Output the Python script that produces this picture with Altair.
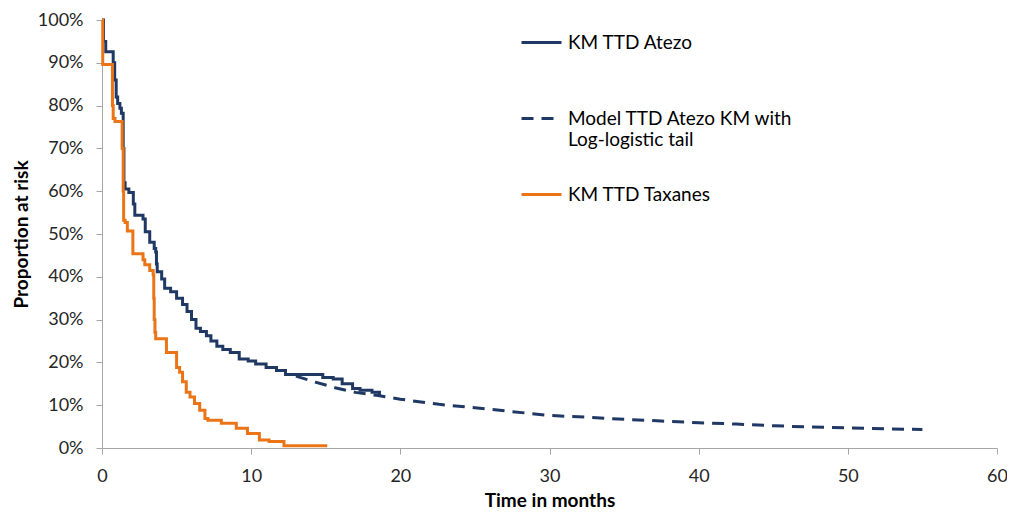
import altair as alt
import pandas as pd

# Kaplan-Meier: time-to-discontinuation, Atezolizumab (time in months, % at risk)
atezo_t = [0, 0.1, 0.25, 0.75, 0.85, 0.95, 1.05, 1.2, 1.3, 1.42, 1.47, 1.55, 1.8, 2.1, 2.2,
           2.75, 2.9, 3.2, 3.5, 3.6, 3.65, 3.7, 4.0, 4.2, 4.6, 5.0, 5.4, 5.7, 6.0, 6.3, 6.6,
           7.0, 7.3, 7.7, 8.1, 8.6, 9.2, 9.8, 10.3, 11.0, 11.7, 12.3, 14.8, 15.5, 16.1, 16.8,
           17.3, 18.1, 18.6]
atezo_s = [100, 95, 92.6, 90, 86, 82, 80.5, 79.4, 78.2, 70, 62, 60.5, 59.7, 57, 54.4,
           53.5, 50.5, 48.1, 46.6, 45.8, 43, 41.2, 39.5, 37.3, 36.5, 35.0, 33.5, 31.9, 30, 28.0, 27.2,
           26.2, 25, 23.8, 23.0, 22.3, 20.8, 20.3, 19.6, 18.8, 18.1, 17.2, 16.5, 16.1, 15.0, 13.9,
           13.5, 13.0, 11.9]

# Kaplan-Meier: time-to-discontinuation, Taxanes
tax_t = [0, 0.05, 0.7, 0.75, 0.87, 1.35, 1.42, 1.45, 1.55, 1.7, 2.07, 2.75, 2.87, 3.2, 3.43,
         3.47, 3.5, 3.55, 3.6, 4.32, 5.0, 5.2, 5.4, 5.65, 5.9, 6.2, 6.55, 6.9, 7.1, 8.0, 9.0,
         9.75, 10.55, 11.2, 12.2, 15.1]
tax_s = [100, 89.6, 80, 77, 76.3, 70, 60, 53.2, 52.7, 50.7, 45.4, 44, 42.8, 41.5, 40.5,
         35, 30, 27, 25.5, 22.3, 18.8, 17.7, 15.5, 13, 11.9, 10.4, 8.8, 6.9, 6.5, 5.8, 4.6,
         3.4, 1.85, 1.5, 0.5, 0.5]

# Modelled curve: KM with log-logistic tail
model_t = [13, 14.3, 15.7, 17, 18.4, 20, 22.6, 25, 27.5, 30, 32.5, 35, 37.5, 40, 42.5,
           45, 47.5, 50, 52.5, 55]
model_s = [16.8, 15.4, 14.0, 13.0, 12.3, 11.4, 10.2, 9.4, 8.5, 7.6, 7.2, 6.7, 6.3, 5.9, 5.6,
           5.2, 4.9, 4.7, 4.5, 4.3]

series_names = ["KM TTD Atezo", "Model TTD Atezo KM with Log-logistic tail", "KM TTD Taxanes"]
series_colors = ["#1F3864", "#1F3864", "#EB7417"]
series_dash = [[1, 0], [12, 8], [1, 0]]

atezo = pd.DataFrame({"t": atezo_t, "s": [v / 100 for v in atezo_s], "series": series_names[0]})
model = pd.DataFrame({"t": model_t, "s": [v / 100 for v in model_s], "series": series_names[1]})
tax = pd.DataFrame({"t": tax_t, "s": [v / 100 for v in tax_s], "series": series_names[2]})

FONT = "Lato"

x = alt.X("t:Q", title="Time in months",
          scale=alt.Scale(domain=[0, 60], nice=False),
          axis=alt.Axis(values=[0, 10, 20, 30, 40, 50, 60], grid=False, tickSize=6,
                        labelPadding=13, titlePadding=6, labelFlush=False))
y = alt.Y("s:Q", title="Proportion at risk",
          scale=alt.Scale(domain=[0, 1], nice=False),
          axis=alt.Axis(values=[i / 10 for i in range(11)], format=".0%", grid=False,
                        tickSize=6, labelPadding=13, titlePadding=6))

label_expr = ("datum.label == 'Model TTD Atezo KM with Log-logistic tail' ? "
              "['Model TTD Atezo KM with', 'Log-logistic tail'] : [datum.label, '']")

legend = alt.Legend(title=None, orient="none", legendX=418, legendY=1,
                    symbolType="stroke", symbolSize=1600, symbolStrokeWidth=3,
                    labelFontSize=19, labelFont=FONT, labelColor="#000000",
                    labelLimit=400, labelOffset=5, rowPadding=23,
                    labelExpr=label_expr)

color = alt.Color("series:N", scale=alt.Scale(domain=series_names, range=series_colors),
                  legend=legend)
dash = alt.StrokeDash("series:N", scale=alt.Scale(domain=series_names, range=series_dash),
                      legend=legend)

l_atezo = alt.Chart(atezo).mark_line(interpolate="step-after", strokeWidth=3).encode(
    x=x, y=y, color=color, strokeDash=dash)
l_model = alt.Chart(model).mark_line(strokeWidth=3).encode(
    x=x, y=y, color=color, strokeDash=dash)
l_tax = alt.Chart(tax).mark_line(interpolate="step-after", strokeWidth=3).encode(
    x=x, y=y, color=color, strokeDash=dash)

chart = (
    alt.layer(l_atezo, l_model, l_tax)
    .properties(width=895, height=428,
                autosize=alt.AutoSizeParams(type="none"),
                padding={"left": 94, "top": 12, "right": 10, "bottom": 61})
    .configure_view(stroke=None)
    .configure_axis(domainColor="#A6A6A6", tickColor="#A6A6A6", labelFont=FONT,
                    labelFontSize=18, labelColor="#262626", titleFont=FONT,
                    titleFontSize=19, titleFontWeight="bold", titleColor="#000000")
)

chart.save("out.html", embed_options={"renderer": "svg", "actions": False})
